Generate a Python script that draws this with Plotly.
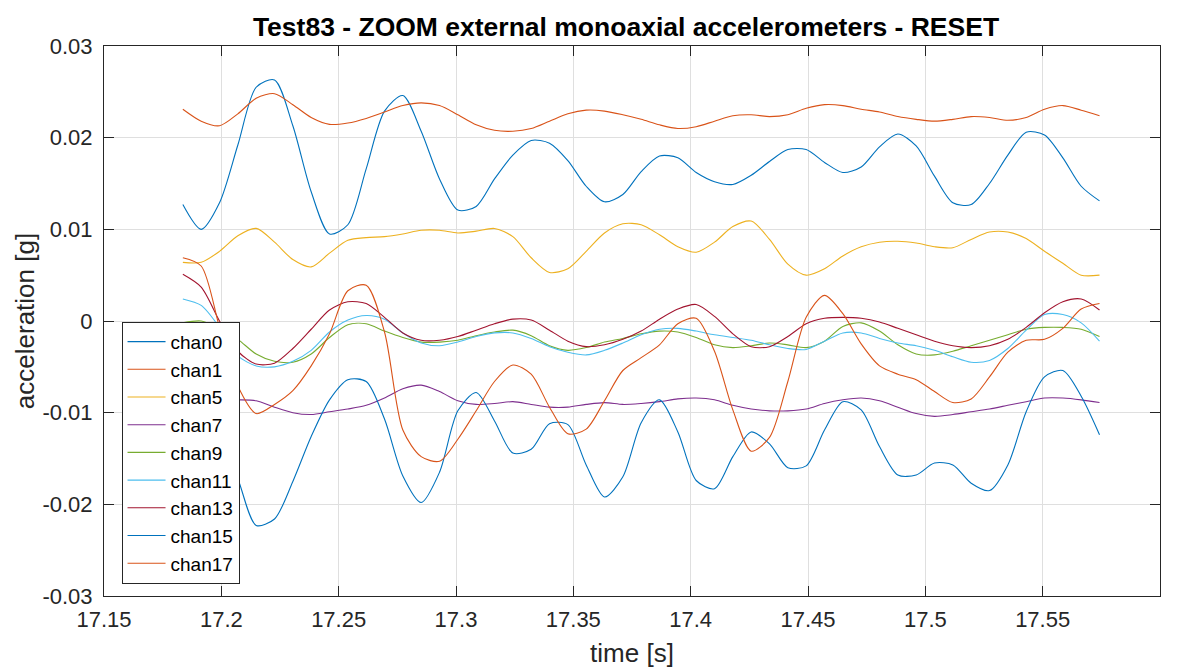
import numpy as np
import plotly.graph_objects as go

# sample times (128 samples/s)
t_start = 17.1836
fs = 128.0
n_samples = 51
time_s = t_start + np.arange(n_samples) / fs

chan0 = [0.0127, 0.0100, 0.0129, 0.0192, 0.0255, 0.0263, 0.0213, 0.0141, 0.0095, 0.0105,
         0.0166, 0.0229, 0.0246, 0.0207, 0.0155, 0.0121, 0.0125, 0.0155, 0.0181, 0.0197,
         0.0194, 0.0175, 0.0147, 0.0130, 0.0138, 0.0163, 0.0180, 0.0178, 0.0162, 0.0152,
         0.0149, 0.0159, 0.0174, 0.0187, 0.0187, 0.0173, 0.0162, 0.0168, 0.0190, 0.0204,
         0.0191, 0.0158, 0.0129, 0.0127, 0.0150, 0.0181, 0.0206, 0.0203, 0.0178, 0.0147,
         0.0131]
chan1 = [0.0231, 0.0218, 0.0213, 0.0226, 0.0243, 0.0248, 0.0236, 0.0222, 0.02145, 0.0216,
         0.0221, 0.0228, 0.0235, 0.0238, 0.0235, 0.0225, 0.0214, 0.0208, 0.0207, 0.0210,
         0.0218, 0.0226, 0.0230, 0.0229, 0.0225, 0.0220, 0.0214, 0.0210, 0.0212, 0.0218,
         0.0224, 0.0225, 0.0223, 0.0225, 0.0232, 0.0236, 0.0235, 0.0231, 0.0228, 0.0223,
         0.0220, 0.0218, 0.0220, 0.0223, 0.0222, 0.0219, 0.0222, 0.0231, 0.0235, 0.0230,
         0.0224]
chan5 = [0.0064, 0.0064, 0.0076, 0.0093, 0.0101, 0.0086, 0.0067, 0.0059, 0.0074, 0.0088,
         0.0091, 0.0092, 0.0095, 0.0099, 0.0099, 0.0096, 0.0098, 0.0101, 0.0092, 0.0069,
         0.0053, 0.0057, 0.0076, 0.0096, 0.0106, 0.0105, 0.0094, 0.0081, 0.0075, 0.0086,
         0.0103, 0.0109, 0.0089, 0.0062, 0.0050, 0.0057, 0.0071, 0.0081, 0.0086, 0.0087,
         0.0085, 0.0081, 0.0080, 0.0089, 0.0097, 0.0097, 0.0090, 0.0076, 0.0063, 0.0050,
         0.0050]
chan7 = [-0.0087, -0.0087, -0.0086, -0.0086, -0.0087, -0.0094, -0.0100, -0.0102, -0.0099, -0.0096,
         -0.0092, -0.0084, -0.0074, -0.0070, -0.0077, -0.0087, -0.0091, -0.0090, -0.0088, -0.0091,
         -0.0094, -0.0094, -0.0091, -0.0089, -0.0091, -0.0090, -0.0088, -0.0085, -0.0084, -0.0086,
         -0.0092, -0.0096, -0.0098, -0.0098, -0.0096, -0.0090, -0.0086, -0.0084, -0.0087, -0.0094,
         -0.0101, -0.0104, -0.0102, -0.0099, -0.0096, -0.0092, -0.0088, -0.0084, -0.0084, -0.0086,
         -0.0089]
chan9 = [-0.0002, 0.0000, -0.0008, -0.0020, -0.0036, -0.0044, -0.0045, -0.0036, -0.0018, -0.0004,
         -0.0003, -0.0011, -0.0018, -0.0023, -0.0023, -0.0021, -0.0016, -0.0012, -0.0010, -0.0016,
         -0.0027, -0.0032, -0.0029, -0.0023, -0.0019, -0.0014, -0.0011, -0.0012, -0.0018, -0.0026,
         -0.0029, -0.0027, -0.0024, -0.0026, -0.0029, -0.0022, -0.0006, -0.0002, -0.0011, -0.0026,
         -0.0036, -0.0037, -0.0033, -0.0027, -0.0021, -0.0015, -0.0009, -0.0007, -0.0007, -0.0009,
         -0.0017]
chan11 = [0.0024, 0.0017, -0.0007, -0.0038, -0.0049, -0.0050, -0.0044, -0.0032, -0.0012, 0.0001,
          0.0006, 0.0002, -0.0013, -0.0024, -0.0027, -0.0023, -0.0017, -0.0013, -0.0013, -0.0019,
          -0.0028, -0.0034, -0.0037, -0.0032, -0.0024, -0.0015, -0.0009, -0.0008, -0.0011, -0.0015,
          -0.0018, -0.0021, -0.0026, -0.0030, -0.0031, -0.0022, -0.0013, -0.0013, -0.0019, -0.0024,
          -0.0027, -0.0032, -0.0039, -0.0045, -0.0043, -0.0030, -0.0010, 0.0007, 0.0007, -0.0002,
          -0.0022]
chan13 = [0.0051, 0.0037, 0.0000, -0.0033, -0.0047, -0.0046, -0.0030, -0.0009, 0.0012, 0.0021,
          0.0019, 0.0004, -0.0013, -0.0021, -0.0021, -0.0017, -0.0010, -0.0003, 0.0002, 0.0001,
          -0.0010, -0.0022, -0.0028, -0.0026, -0.0020, -0.0011, 0.0002, 0.0013, 0.0018, 0.0005,
          -0.0014, -0.0028, -0.0028, -0.0017, -0.0003, 0.0003, 0.0004, 0.0003, -0.0001, -0.0008,
          -0.0015, -0.0022, -0.0027, -0.0029, -0.0027, -0.0020, -0.0007, 0.0009, 0.0021, 0.0024,
          0.0012]
chan15 = [-0.0100, -0.0095, -0.0125, -0.0172, -0.0223, -0.0216, -0.0175, -0.0126, -0.0086, -0.0064,
          -0.0066, -0.0107, -0.0169, -0.0198, -0.0165, -0.0098, -0.0078, -0.0109, -0.0144, -0.0140,
          -0.0112, -0.0113, -0.0157, -0.0192, -0.0170, -0.0111, -0.0086, -0.0121, -0.0174, -0.0183,
          -0.0148, -0.0121, -0.0134, -0.0160, -0.0158, -0.0119, -0.0088, -0.0097, -0.0137, -0.0168,
          -0.0168, -0.0155, -0.0157, -0.0177, -0.0185, -0.0157, -0.0099, -0.0061, -0.0054, -0.0082,
          -0.0124]
chan17 = [0.0069, 0.0060, -0.0007, -0.0071, -0.0101, -0.0091, -0.0076, -0.0049, -0.0014, 0.0033,
          0.0039, -0.0012, -0.0119, -0.0148, -0.0153, -0.0129, -0.0098, -0.0066, -0.0048, -0.0058,
          -0.0094, -0.0123, -0.0118, -0.0087, -0.0054, -0.0040, -0.0026, -0.0003, 0.0003, -0.0033,
          -0.0097, -0.0142, -0.0127, -0.0066, 0.0004, 0.0028, 0.0008, -0.0025, -0.0049, -0.0058,
          -0.0064, -0.0077, -0.0089, -0.0085, -0.0061, -0.0034, -0.0021, -0.0020, -0.0008, 0.0013,
          0.0019]

names = ["chan0", "chan1", "chan5", "chan7", "chan9", "chan11", "chan13", "chan15", "chan17"]
series = [chan0, chan1, chan5, chan7, chan9, chan11, chan13, chan15, chan17]
colors = ["#0072BD", "#D95319", "#EDB120", "#7E2F8E", "#77AC30", "#4DBEEE", "#A2142F",
          "#0072BD", "#D95319"]

x_ticks = [17.15, 17.2, 17.25, 17.3, 17.35, 17.4, 17.45, 17.5, 17.55, 17.6]
x_ticktext = ["17.15", "17.2", "17.25", "17.3", "17.35", "17.4", "17.45", "17.5", "17.55", "17.6"]
y_ticks = [-0.03, -0.02, -0.01, 0, 0.01, 0.02, 0.03]
y_ticktext = ["-0.03", "-0.02", "-0.01", "0", "0.01", "0.02", "0.03"]

FONT = "Liberation Sans, Arial, Helvetica, sans-serif"
AX = "#262626"

# page has an 8px body margin; figure sized to fit inside the window
W, H = 1171, 660

fig = go.Figure()
for name, vals, col in zip(names, series, colors):
    fig.add_trace(go.Scatter(x=time_s, y=vals, name=name, mode="lines",
                             line=dict(color=col, width=1.1, shape="spline", smoothing=0.8)))

axis_common = dict(showline=True, linecolor=AX, linewidth=1, mirror="ticks",
                   ticks="inside", ticklen=10, tickcolor=AX, tickwidth=1,
                   showgrid=True, gridcolor="#dfdfdf", gridwidth=1, zeroline=False,
                   tickfont=dict(family=FONT, size=22, color=AX))

fig.update_xaxes(range=[17.15, 17.6], tickvals=x_ticks, ticktext=x_ticktext,
                 title=dict(text="time [s]", font=dict(family=FONT, size=26, color=AX), standoff=15),
                 ticklabelstandoff=4, **axis_common)
fig.update_yaxes(range=[-0.03, 0.03], tickvals=y_ticks, ticktext=y_ticktext,
                 title=dict(text="acceleration [g]", font=dict(family=FONT, size=26, color=AX), standoff=0),
                 ticklabelstandoff=6, **axis_common)

fig.update_layout(
    width=W, height=H,
    paper_bgcolor="white", plot_bgcolor="white",
    margin=dict(l=95.5, r=19, t=38, b=H - 588, autoexpand=False),
    title=dict(text="<b>Test83 - ZOOM external monoaxial accelerometers - RESET</b>",
               font=dict(family=FONT, size=26.5, color="black"),
               x=618 / W, xanchor="center",
               yref="container", y=1 - 19 / H, yanchor="middle"),
    legend=dict(x=0.0166, y=0.4986, xanchor="left", yanchor="top",
                bgcolor="white", bordercolor=AX, borderwidth=1,
                font=dict(family=FONT, size=19, color="black"),
                itemwidth=38, tracegroupgap=0),
    showlegend=True,
)

fig.write_html("out.html")
